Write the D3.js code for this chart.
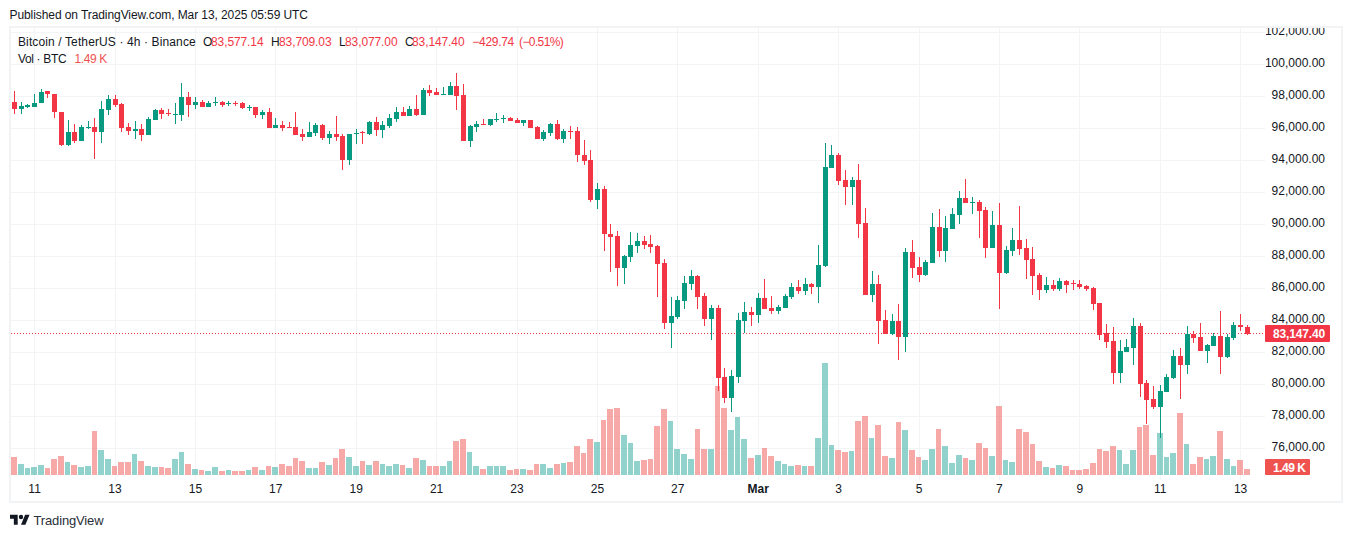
<!DOCTYPE html>
<html>
<head>
<meta charset="utf-8">
<title>BTCUSDT 4h</title>
<script src="https://cdn.jsdelivr.net/npm/d3@7"></script>
<style>
    html, body { margin: 0; padding: 0; background: #fff; }
    svg { display: block; }
    text { font-family: "Liberation Sans", Arial, sans-serif; font-size: 12px; fill: #131722; }
</style>
</head>
<body>
<div id="chart"></div>
<script>
const firstCandle = "2025-02-10T12:00:00Z";
const candleHours = 4;

const opens = [97646,97167,97333,97333,97542,98292,98146,97021,94958,95771,95208,96040,96083,95771,97146,97833,97521,96083,95833,95958,
    95583,96521,97146,96938,96854,96833,97958,97458,97646,97292,97610,97646,97540,97580,97583,97250,97333,96833,97021,96021,
    96208,96083,96083,95646,95458,95708,96208,95396,95646,95521,94021,95646,95729,95646,96396,95896,96146,96583,97021,96771,
    97208,96833,98396,98271,98083,98083,98646,98083,95208,96083,96271,96208,96500,96583,96646,96521,96333,96521,96083,95333,
    95708,96271,95333,95833,95833,94333,94000,91500,92180,89396,89271,87229,87958,88646,88958,88771,88646,87583,83833,84208,
    85208,86271,86771,85521,84083,84771,80458,79146,80458,83958,84521,84333,85396,84771,84583,84771,85458,86083,85833,86271,
    86083,87396,93521,94333,92771,92333,92771,90083,85583,86271,84021,83146,83958,82958,88271,87333,86833,87583,89833,88333,
    89708,90583,91646,91333,91396,90896,88521,89958,86958,88333,89021,88521,87833,86833,85896,86208,85958,86458,86292,86271,
    86146,86021,85083,83188,82708,80708,82021,82271,83646,80083,79083,78583,79521,80396,81771,81208,83146,82958,82083,82396,
    83021,81708,82896,83708,83577];
const highs = [98333,97646,97500,98146,98458,98333,98146,97021,96521,96271,96208,96438,96646,97708,98083,98083,97583,96333,96458,96271,
    96708,97208,97271,97208,97583,98833,98271,97958,97771,97708,97958,97708,97708,97708,97646,97438,97333,97146,97271,96646,
    96458,96396,97021,95958,96396,96333,96271,95833,96771,95646,95646,95958,95833,96458,96708,96458,96896,97333,97333,97396,
    98083,98521,98708,98521,98583,98896,99458,98771,96208,96458,96583,96583,96958,96833,96708,96646,96521,96521,96146,95896,
    96333,96521,95958,96146,96083,95230,94620,92550,92360,90021,89583,88083,89521,89458,89271,89333,88708,87833,85458,85521,
    86771,87146,86833,85708,84958,84958,81021,80896,84458,85146,84833,85708,86583,85521,84958,85646,86333,86521,86646,86333,
    88708,95083,94958,94458,93396,92958,93771,91021,87083,86833,84646,84396,85021,88521,89021,87958,87771,90708,90958,90521,
    91021,92083,92833,91708,91521,91083,90833,91333,88646,89771,91146,89083,88583,86958,86708,86521,86646,86521,86521,86521,
    86208,86083,85083,83771,83583,82771,82833,84146,83833,80271,79896,79958,80646,82146,82271,83646,83333,83833,82521,83208,
    84583,83146,83896,84396,83709];
const lows = [96854,96854,97250,97333,97542,97896,96604,94896,94896,95083,95208,95917,94083,95083,96833,97333,95771,95583,95333,95208,
    95583,96521,96583,96771,96271,96458,96708,97208,97292,97292,97396,97292,97396,97396,97208,97083,96646,96583,96021,96021,
    95813,96021,95583,95208,95458,95521,95271,95021,95208,93396,93708,95021,95021,95583,95521,95396,96021,96396,96771,96771,
    96771,96833,98021,98083,98083,98083,97146,95208,94833,95771,96208,96146,96396,96333,96458,96333,96146,96021,95333,95208,
    95521,95271,95083,95333,93850,93680,91380,90940,88292,86979,86104,86229,87646,88208,88458,88208,85458,83458,82271,84083,
    84708,85896,84708,83646,82771,79583,78833,78271,80083,83208,83646,83833,84708,84396,84396,84771,85333,85646,85583,85646,
    85083,87333,93521,92458,91208,91208,89146,85583,85146,82521,83146,83083,81521,82021,86646,86396,86771,87583,87958,87646,
    89708,90021,91333,90646,89146,87896,88521,84708,86896,88021,88083,86583,85583,85271,85708,85833,85833,85708,85896,85958,
    85833,84646,82771,82271,80021,80083,82021,81208,79208,77521,78458,76660,79521,80333,79083,80646,82583,82083,81333,82396,
    80646,81646,82771,83333,83077];
const closes = [97167,97396,97417,97583,98271,98104,96979,94958,95771,95208,96083,96083,95771,97208,97833,97458,96021,95833,95958,95583,
    96583,97146,96896,96896,96896,97958,97458,97646,97292,97583,97650,97458,97580,97540,97271,97333,96833,97021,96021,96208,
    96021,96021,95583,95458,95771,96208,95396,95646,95458,94021,95646,95688,95667,96396,95896,96208,96646,97021,96771,97208,
    96833,98396,98208,98083,98146,98646,98021,95208,96146,96271,96208,96583,96583,96625,96458,96333,96521,96021,95333,95771,
    96271,95333,95833,95792,94300,93940,91500,92180,89354,89208,87229,88021,88708,88958,88708,88583,87521,83833,84271,85271,
    86333,86771,85458,84083,84771,80396,79146,80521,84021,84521,84333,85396,84708,84583,84833,85521,86083,85833,86271,86083,
    87458,93583,94333,92708,92333,92771,90021,85583,86271,83958,83146,83958,82958,88271,87271,86833,87646,89833,88333,89771,
    90646,91646,91333,91375,90833,88521,89958,86958,88396,89021,88458,87771,86771,85896,86208,85958,86458,86208,86250,86083,
    85958,85021,83083,82646,80708,82083,82333,83646,80021,79021,78583,79583,80458,81771,81208,83146,82896,82083,82458,83021,
    81708,82958,83708,83583,83147.4];
// thousands of BTC per candle
const volumes = [4.47,2.73,1.74,1.99,2.48,1.74,3.97,4.72,3.23,2.48,1.99,2.24,10.93,6.21,3.97,2.24,3.23,3.23,5.22,3.48,
    2.24,1.99,1.99,1.74,3.97,5.71,2.73,1.49,1.24,0.99,1.99,0.99,1.24,0.99,0.99,1.24,1.99,1.24,2.24,1.99,
    2.73,2.24,4.22,3.48,1.74,1.74,3.23,2.48,4.22,6.46,4.47,2.24,3.48,2.48,3.48,2.73,2.24,2.73,2.48,1.74,
    4.22,3.73,2.24,2.24,2.24,3.48,8.44,8.94,5.71,2.24,1.49,2.24,2.24,2.24,1.24,1.49,1.49,1.24,2.73,2.73,
    1.74,2.73,2.98,3.23,7.20,5.46,8.94,8.20,13.66,16.39,16.64,9.93,7.95,3.48,3.73,3.97,12.17,16.39,13.41,6.46,
    5.22,3.97,11.42,6.46,6.46,22.10,16.64,11.18,14.40,8.94,4.22,4.97,6.71,4.72,3.48,2.73,2.24,2.48,2.24,2.24,
    9.19,27.81,7.45,6.21,5.71,5.96,13.41,14.65,9.19,12.42,4.72,4.22,13.16,11.18,6.21,4.47,3.73,6.46,11.42,7.20,
    2.98,4.97,4.22,3.73,7.95,6.71,4.72,17.14,3.73,3.23,11.42,10.68,7.70,3.48,1.99,1.74,2.48,2.24,1.24,1.24,
    1.49,2.98,6.46,5.96,7.20,6.21,2.73,6.21,11.92,12.42,4.97,10.43,4.47,5.46,15.40,7.70,2.73,4.47,3.97,4.72,
    10.93,3.97,2.24,3.73,1.49];

const priceTicks = [102000,100000,98000,96000,94000,92000,90000,88000,86000,84000,82000,80000,78000,76000];
const dateTicks = ["2025-02-11","2025-02-13","2025-02-15","2025-02-17","2025-02-19","2025-02-21","2025-02-23","2025-02-25",
    "2025-02-27","2025-03-01","2025-03-03","2025-03-05","2025-03-07","2025-03-09","2025-03-11","2025-03-13"];
const ohlcLabels = ["O","H","L","C"];
const ohlcValues = ["83,577.14","83,709.03","83,077.00","83,147.40"];
const lastVolumeText = "1.49 K";

const GREEN = "#089981";
const RED = "#f23645";
const VOL_GREEN = "#26a69a";
const VOL_RED = "#ef5350";
const GRID = "#f3f4f6";
const FRAME = "#f2f3f5";

const width = 1352;
const height = 538;

const svg = d3.select("#chart").append("svg")
    .attr("width", width)
    .attr("height", height);

const candleTime = i => new Date(+new Date(firstCandle) + i * candleHours * 3600e3);

const x = d3.scaleUtc()
    .domain([candleTime(0), candleTime(closes.length - 1)])
    .range([14.5, 1247.3]);
const y = d3.scaleLinear().domain([76000, 102000]).range([448.3, 31.9]);
const yVol = d3.scaleLinear().domain([0, d3.max(volumes)]).range([475, 363]);

const px = i => x(candleTime(i));
const isUp = i => closes[i] >= opens[i];
const fmtPrice = d3.format(",.2f");

// frame
svg.append("rect")
    .attr("x", 10).attr("y", 27).attr("width", 1332).attr("height", 475)
    .attr("fill", "none").attr("stroke", FRAME).attr("stroke-width", 2);

// grid
svg.append("g").selectAll("rect")
    .data(dateTicks)
    .join("rect")
    .attr("x", d => Math.floor(x(new Date(d + "T00:00:00Z"))))
    .attr("y", 28).attr("width", 1).attr("height", 452)
    .attr("fill", GRID);

svg.append("g").selectAll("rect")
    .data(priceTicks)
    .join("rect")
    .attr("x", 11).attr("y", d => Math.round(y(d)))
    .attr("width", 1254).attr("height", 1)
    .attr("fill", GRID);

// volume sits under the candles
const bars = svg.append("g").attr("shape-rendering", "crispEdges");
bars.selectAll("rect")
    .data(volumes)
    .join("rect")
    .attr("x", (d, i) => Math.round(px(i) - 3.35))
    .attr("width", (d, i) => Math.round(px(i) + 3.35) - Math.round(px(i) - 3.35) - 1)
    .attr("y", d => Math.round(yVol(d)))
    .attr("height", d => 475 - Math.round(yVol(d)))
    .attr("fill", (d, i) => isUp(i) ? VOL_GREEN : VOL_RED)
    .attr("fill-opacity", 0.5);

// last price line
svg.append("line")
    .attr("x1", 11).attr("x2", 1265)
    .attr("y1", Math.floor(y(closes[closes.length - 1])) + 0.5)
    .attr("y2", Math.floor(y(closes[closes.length - 1])) + 0.5)
    .attr("stroke", RED).attr("stroke-width", 1).attr("stroke-dasharray", "1 2");

// candles
const candles = svg.append("g").attr("shape-rendering", "crispEdges");
candles.selectAll("rect.wick")
    .data(closes)
    .join("rect")
    .attr("class", "wick")
    .attr("x", (d, i) => Math.floor(px(i)))
    .attr("width", 1)
    .attr("y", (d, i) => Math.round(y(highs[i])))
    .attr("height", (d, i) => Math.max(1, Math.round(y(lows[i])) - Math.round(y(highs[i]))))
    .attr("fill", (d, i) => isUp(i) ? GREEN : RED);

candles.selectAll("rect.body")
    .data(closes)
    .join("rect")
    .attr("class", "body")
    .attr("x", (d, i) => Math.floor(px(i)) - 2)
    .attr("width", 5)
    .attr("y", (d, i) => Math.round(y(Math.max(opens[i], closes[i]))))
    .attr("height", (d, i) => Math.max(1, Math.round(y(Math.min(opens[i], closes[i]))) - Math.round(y(Math.max(opens[i], closes[i])))))
    .attr("fill", (d, i) => isUp(i) ? GREEN : RED);

// price axis, top label gets cut by the frame
svg.append("clipPath").attr("id", "axis-clip")
    .append("rect").attr("x", 1266).attr("y", 28).attr("width", 75).attr("height", 473);

svg.append("g").attr("clip-path", "url(#axis-clip)").selectAll("text")
    .data(priceTicks)
    .join("text")
    .attr("x", 1325).attr("y", d => y(d) + 2.8)
    .attr("text-anchor", "end")
    .text(fmtPrice);

// time axis
svg.append("g").selectAll("text")
    .data(dateTicks)
    .join("text")
    .attr("x", d => x(new Date(d + "T00:00:00Z")))
    .attr("y", 492.5)
    .attr("text-anchor", "middle")
    .attr("font-weight", d => d.endsWith("03-01") ? "bold" : null)
    .text(d => {
        const t = new Date(d + "T00:00:00Z");
        return t.getUTCDate() === 1 ? d3.utcFormat("%b")(t) : t.getUTCDate();
    });

// last price + last volume tags
svg.append("rect").attr("x", 1265).attr("y", 325).attr("width", 65).attr("height", 17).attr("rx", 1).attr("fill", RED);
svg.append("text").attr("x", 1325).attr("y", 337.5).attr("text-anchor", "end")
    .attr("font-weight", "bold").style("fill", "#fff").style("letter-spacing", "-0.15px")
    .text(fmtPrice(closes[closes.length - 1]));

svg.append("rect").attr("x", 1265).attr("y", 459).attr("width", 45).attr("height", 16).attr("rx", 1).attr("fill", VOL_RED);
svg.append("text").attr("x", 1273).attr("y", 471.5)
    .attr("font-weight", "bold").style("fill", "#fff").style("letter-spacing", "-0.5px")
    .text(lastVolumeText);

// legend
svg.append("text").attr("x", 18).attr("y", 46).style("letter-spacing", "0.12px")
    .text("Bitcoin / TetherUS · 4h · Binance");

const labelX = [203, 271, 339, 405];
const valueGap = [8, 8, 6, 7];
ohlcLabels.forEach((label, i) => {
    svg.append("text").attr("x", labelX[i]).attr("y", 46).text(label);
    svg.append("text").attr("x", labelX[i] + valueGap[i]).attr("y", 46)
        .style("fill", RED).style("letter-spacing", "-0.1px").text(ohlcValues[i]);
});
svg.append("text").attr("x", 472.3).attr("y", 46).style("fill", RED).style("letter-spacing", "-0.3px").text("−429.74");
svg.append("text").attr("x", 519).attr("y", 46).style("fill", RED).style("letter-spacing", "-0.6px").text("(−0.51%)");

svg.append("text").attr("x", 18).attr("y", 63).style("letter-spacing", "-0.35px").text("Vol · BTC");
svg.append("text").attr("x", 74.5).attr("y", 63).style("fill", VOL_RED).style("letter-spacing", "-0.4px").text(lastVolumeText);

// header + footer
svg.append("text").attr("x", 9.5).attr("y", 19).style("letter-spacing", "-0.08px")
    .text("Published on TradingView.com, Mar 13, 2025 05:59 UTC");

svg.append("path")
    .attr("transform", "translate(10,512.6) scale(0.55)")
    .attr("d", "M14 22H7V11H0V4h14v18zM28 22h-8l7.5-18h8L28 22zM24 8a4 4 0 1 1-8 0 4 4 0 0 1 8 0z")
    .attr("fill", "#131722");
svg.append("text").attr("x", 33.5).attr("y", 524.5).style("font-size", "13px").style("letter-spacing", "-0.15px")
    .style("fill", "#2a2e39").text("TradingView");
</script>
</body>
</html>
